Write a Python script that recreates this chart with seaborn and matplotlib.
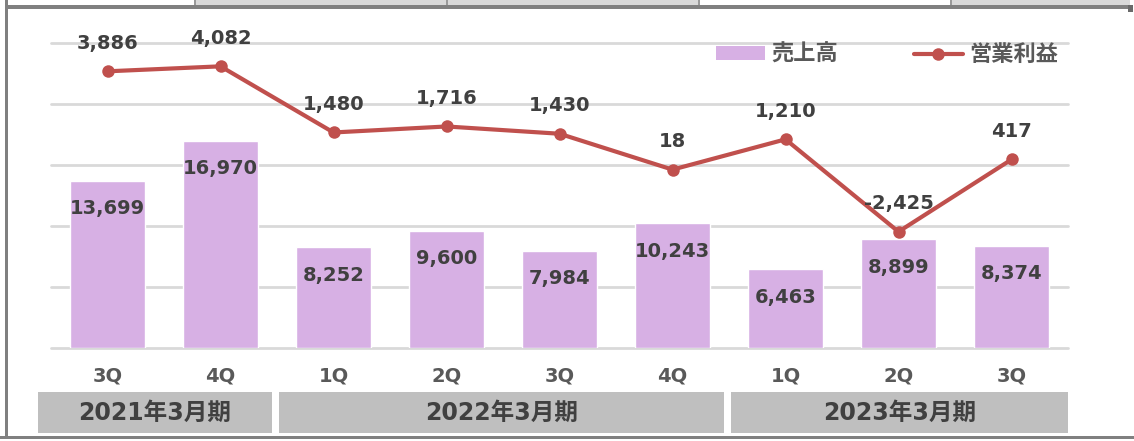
import pandas as pd
import matplotlib
matplotlib.use("Agg")
import matplotlib.pyplot as plt
import matplotlib.transforms as mtransforms
from matplotlib.patches import Rectangle
from matplotlib.lines import Line2D
import seaborn as sns

# ---------------------------------------------------------------
# data (百万円)
# ---------------------------------------------------------------
quarters = ["3Q", "4Q", "1Q", "2Q", "3Q", "4Q", "1Q", "2Q", "3Q"]
sales = [13699, 16970, 8252, 9600, 7984, 10243, 6463, 8899, 8374]
op_profit = [3886, 4082, 1480, 1716, 1430, 18, 1210, -2425, 417]
fiscal_years = ["2021年3月期", "2022年3月期", "2023年3月期"]
quarters_per_year = [2, 4, 3]
series_names = ["売上高", "営業利益"]

bar_color = "#d7b0e4"
line_color = "#c0504d"
text_dark = "#404040"
text_grey = "#595959"

df = pd.DataFrame({"idx": range(len(quarters)), "sales": sales, "profit": op_profit})

sns.set_theme(style="white")
plt.rcParams['font.family'] = ['DejaVu Sans', 'Noto Sans CJK JP']

W, H = 1134, 441
fig = plt.figure(figsize=(W / 100, H / 100), dpi=100)
fig.patch.set_facecolor("white")


def px_rect(x0, y0, x1, y1, color):
    # rectangle in pixel coords, origin top-left
    fig.add_artist(Rectangle((x0 / W, 1 - y1 / H), (x1 - x0) / W, (y1 - y0) / H,
                             transform=fig.transFigure, color=color, lw=0))


# spreadsheet frame around the chart
px_rect(8, 0, 195, 5, "white")
px_rect(195, 0, 699, 5, "#d9d9d9")
px_rect(951, 0, 1130, 5, "#d9d9d9")
for xd in [195, 447, 699, 951]:
    px_rect(xd - 1, 0, xd + 1, 5, "#9a9a9a")
px_rect(5, 5, 1130, 9, "#808080")
px_rect(1128, 5, 1133, 12, "#6a6a6a")
px_rect(5, 0, 8, 439, "#808080")
px_rect(0, 436, W, 439, "#808080")

ax = fig.add_axes([51 / W, 93 / H, 1017 / W, 305 / H])

#================================================
# bars: 売上高
#================================================
sns.barplot(data=df, x="idx", y="sales", color=bar_color, saturation=1,
            width=0.67, ax=ax, zorder=2)
ax.set_xlim(-0.5, len(quarters) - 0.5)
ax.set_ylim(0, 25000)
ax.set_yticks(range(0, 25001, 5000))
ax.grid(axis="y", color="#d9d9d9", lw=2)
for gl in ax.get_ygridlines():
    gl.set_clip_on(False)
ax.set_axisbelow(True)
ax.set_xlabel("")
ax.set_ylabel("")
sns.despine(ax=ax, left=True, bottom=True)

for i, v in enumerate(sales):
    ax.annotate(f"{v:,}", (i, v), xytext=(0, -28), textcoords="offset pixels",
                ha="center", va="center", fontsize=14, fontweight="bold",
                color=text_dark, zorder=4)

#================================================
# line: 営業利益
#================================================
ax2 = ax.twinx()
sns.lineplot(data=df, x="idx", y="profit", color=line_color, lw=3, marker="o",
             markersize=9, markeredgewidth=0, ax=ax2, zorder=3)
ax2.set_ylim(-7000, 5000)
ax2.set_xlim(-0.5, len(quarters) - 0.5)
ax2.grid(False)
ax2.set_ylabel("")
ax2.set_xlabel("")
sns.despine(ax=ax2, left=True, bottom=True, right=True)

# twinx turns the left ticks back on, so switch everything off here
for a in (ax, ax2):
    a.tick_params(left=False, right=False, bottom=False, top=False,
                  labelleft=False, labelright=False, labelbottom=False)

for i, v in enumerate(op_profit):
    ax2.annotate(f"{v:,}", (i, v), xytext=(0, 28), textcoords="offset pixels",
                 ha="center", va="center", fontsize=14, fontweight="bold",
                 color=text_dark, zorder=6)

#================================================
# quarter labels and fiscal year boxes
#================================================
for i, q in enumerate(quarters):
    ax.annotate(q, (i, 0), xycoords=("data", "axes fraction"), xytext=(0, -28),
                textcoords="offset pixels", ha="center", va="center",
                fontsize=14, fontweight="bold", color=text_grey)

trans = mtransforms.blended_transform_factory(ax.transData, fig.transFigure)
box_bottom, box_top = 1 - 433 / H, 1 - 392 / H
start = 0
for k, (fy, n) in enumerate(zip(fiscal_years, quarters_per_year)):
    left = start - 0.5 + (0.02 if k > 0 else -0.115)
    right = start + n - 0.5 - (0.045 if k < len(fiscal_years) - 1 else 0)
    ax.add_patch(Rectangle((left, box_bottom), right - left, box_top - box_bottom,
                           transform=trans, color="#bfbfbf", lw=0, clip_on=False))
    ax.text((left + right) / 2, (box_bottom + box_top) / 2, fy, transform=trans,
            ha="center", va="center", fontsize=17, fontweight="bold", color=text_dark)
    start += n

#================================================
# legend
#================================================
handles = [Rectangle((0, 0), 1, 1, color=bar_color, lw=0),
           Line2D([0], [0], color=line_color, lw=3, marker="o", markersize=9,
                  markeredgewidth=0)]
fig.legend(handles, series_names, loc="center left",
           bbox_to_anchor=(716 / W, 1 - 54.5 / H), ncol=2, frameon=False,
           prop={"size": 16, "weight": "bold"}, labelcolor=text_grey,
           handlelength=2.2, handleheight=0.6, handletextpad=0.3,
           columnspacing=3.4, borderpad=0, borderaxespad=0)

fig.savefig("out.png", dpi=100)
plt.close(fig)
